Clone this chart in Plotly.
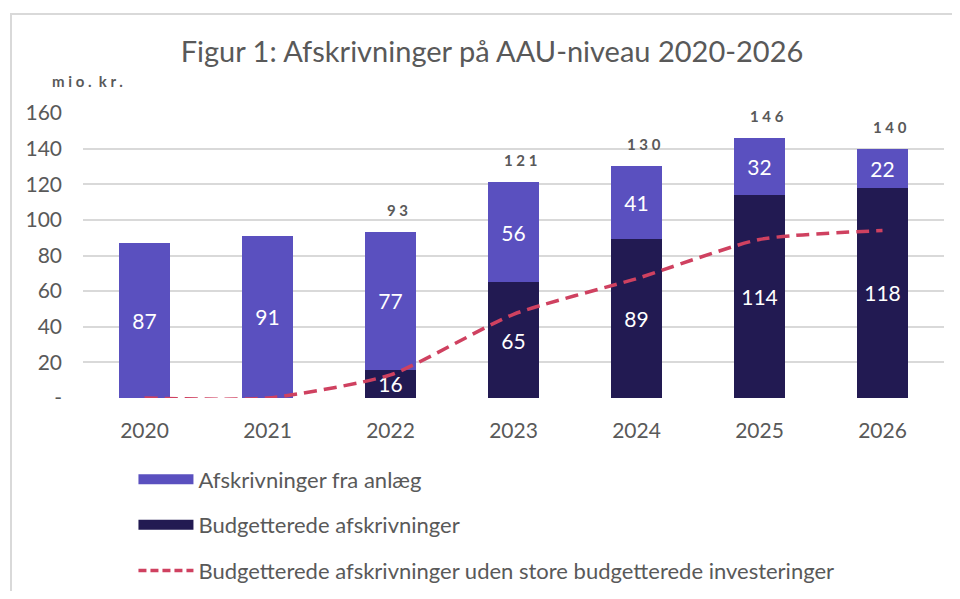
import plotly.graph_objects as go

# data (mio. kr.)
years = ["2020", "2021", "2022", "2023", "2024", "2025", "2026"]
budgetterede = [0, 0, 16, 65, 89, 114, 118]
fra_anlaeg = [87, 91, 77, 56, 41, 32, 22]
uden_store = [0, 0, 13, 47, 67, 89, 94]
totals = [None, None, 93, 121, 130, 146, 140]

y_ticks = [0, 20, 40, 60, 80, 100, 120, 140, 160]
y_tick_text = ["-", "20", "40", "60", "80", "100", "120", "140", "160"]

LIGHT = "#5a50bf"
DARK = "#221a52"
RED = "#cf4160"
GREY = "#595959"
FONT = "Lato, Open Sans, sans-serif"

NAME_A = "Afskrivninger fra anlæg"
NAME_B = "Budgetterede afskrivninger"
NAME_C = "Budgetterede afskrivninger uden store budgetterede investeringer"

fig = go.Figure()

fig.add_trace(go.Bar(
    x=years, y=budgetterede, name=NAME_B, showlegend=False,
    marker=dict(color=DARK, line=dict(width=0)),
    text=[str(v) if v else "" for v in budgetterede],
    textposition="inside", insidetextanchor="middle",
    textangle=0, constraintext="none",
    textfont=dict(color="white", size=21, family=FONT),
))
fig.add_trace(go.Bar(
    x=years, y=fra_anlaeg, name=NAME_A, showlegend=False,
    marker=dict(color=LIGHT, line=dict(width=0)),
    text=[str(v) for v in fra_anlaeg],
    textposition="inside", insidetextanchor="middle",
    textangle=0, constraintext="none",
    textfont=dict(color="white", size=21, family=FONT),
))
fig.add_trace(go.Scatter(
    x=years, y=uden_store, name=NAME_C, showlegend=False,
    mode="lines",
    line=dict(color=RED, width=3.5, dash="13px,7px", shape="spline", smoothing=0.6),
))

# legend entries drawn as wide swatches like the original
for name, color, width, dash in [(NAME_A, LIGHT, 14, "solid"),
                                 (NAME_B, DARK, 14, "solid"),
                                 (NAME_C, RED, 3.5, "8px,4px")]:
    fig.add_trace(go.Scatter(
        x=[None], y=[None], name=name, mode="lines", legendgroup=name,
        line=dict(color=color, width=width, dash=dash),
    ))

# total labels above the stacked bars (x given as category index)
for i, tot in enumerate(totals):
    if tot is None:
        continue
    fig.add_annotation(
        x=i, y=tot, text=f"<b>{' '.join(str(tot))}</b>",
        showarrow=False, yanchor="bottom", yshift=11, xshift=7,
        font=dict(size=15, color=GREY, family=FONT),
    )

# unit label
fig.add_annotation(
    xref="paper", yref="paper", x=-0.0383, y=1.112,
    text="<b>m i o .  k r .</b>", showarrow=False,
    xanchor="left", yanchor="middle",
    font=dict(size=15, color=GREY, family=FONT),
)

# chart frame
fig.add_shape(
    type="rect", xref="paper", yref="paper",
    x0=-0.0836, y0=-1.2, x1=1.2, y1=1.347,
    line=dict(color="#d9d9d9", width=2), layer="below",
)

fig.update_layout(
    width=944, height=583,
    barmode="stack", bargap=0.59,
    paper_bgcolor="white", plot_bgcolor="white",
    margin=dict(l=75, r=8, t=105, b=192.5, autoexpand=False),
    font=dict(family=FONT, color=GREY, size=21),
    title=dict(
        text="Figur 1: Afskrivninger på AAU-niveau 2020-2026",
        x=0.5127, xanchor="center", y=0.925, yanchor="middle",
        font=dict(size=29, color=GREY, family=FONT),
    ),
    legend=dict(
        orientation="v", x=0.0586, xanchor="left", y=-0.212, yanchor="top",
        font=dict(size=22, color=GREY, family=FONT),
        tracegroupgap=14, itemwidth=55,
        traceorder="grouped",
    ),
    showlegend=True,
)

fig.update_xaxes(
    type="category", range=[-0.5, len(years) - 0.5],
    showgrid=False, showline=False, ticks="", ticklabelstandoff=18,
    tickfont=dict(size=21, color=GREY, family=FONT),
)
fig.update_yaxes(
    range=[0, 160], tickvals=y_ticks, ticktext=y_tick_text,
    showgrid=True, gridcolor="#d9d9d9", gridwidth=1.5,
    zeroline=False, showline=False, ticks="", ticklabelstandoff=20,
    tickfont=dict(size=21, color=GREY, family=FONT),
)

fig.write_html("out.html")
